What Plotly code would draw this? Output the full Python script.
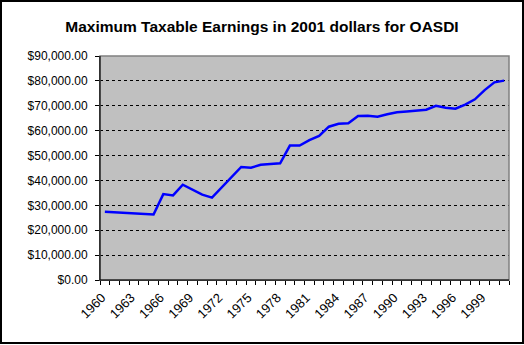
import plotly.graph_objects as go

years = list(range(1960, 2002))
earnings = [27400, 27200, 26800, 26700, 26600, 26300, 34500, 34000, 38300, 36400,
            34300, 33100, 37200, 41400, 45400, 45100, 46300, 46600, 46900, 54000,
            54000, 56200, 57900, 61600, 62800, 63000, 65900, 66000, 65600, 66600,
            67400, 67700, 67900, 68400, 70000, 69200, 68800, 70500, 72600, 76300,
            79400, 80100]
label_years = list(range(1960, 2002, 3))
title = "Maximum Taxable Earnings in 2001 dollars for OASDI"

W, H = 524, 345
L, R, T, B = 100, 15, 56, 65
pw, ph = W - L - R, H - T - B
FONT = "Liberation Sans, Arial, sans-serif"

fig = go.Figure()
fig.add_trace(go.Scatter(x=years, y=earnings, mode="lines",
                         line=dict(color="#0000FF", width=2.5), showlegend=False))

fig.update_layout(
    width=W, height=H,
    margin=dict(l=L, r=R, t=T, b=B),
    paper_bgcolor="white", plot_bgcolor="#C0C0C0",
    font=dict(family=FONT, size=13, color="black"),
    title=dict(text="<b>" + title + "</b>", x=0.5, xref="container", xanchor="center",
               y=1 - 27 / H, yref="container", yanchor="middle",
               font=dict(size=15.5, family=FONT)),
    xaxis=dict(range=[1959.5, 2001.5], tickmode="array", tickvals=label_years,
               ticktext=[str(y) for y in label_years], tickangle=-45,
               ticks="", showgrid=False, showline=True, linecolor="black",
               linewidth=1, zeroline=False, ticklabelstandoff=4, ticklabelshift=-3,
               tickfont=dict(size=13),
               minor=dict(ticks="outside", ticklen=4, tickcolor="black",
                          tick0=1959.5, dtick=1, showgrid=False)),
    yaxis=dict(range=[0, 90000], dtick=10000, tickformat="$,.2f",
               ticks="outside", ticklen=4, tickcolor="black",
               tickfont=dict(size=12), ticklabelstandoff=5,
               showgrid=True, gridcolor="black", griddash="3px,3px", gridwidth=1,
               showline=True, linecolor="black", linewidth=1, zeroline=False),
)

# plot area border (gray, top & right)
fig.add_shape(type="rect", xref="paper", yref="paper", x0=0, x1=1, y0=0, y1=1,
              line=dict(color="#808080", width=1.5), layer="above")
fig.add_shape(type="line", xref="paper", yref="paper", x0=0, x1=0, y0=0, y1=1,
              line=dict(color="black", width=1), layer="above")
fig.add_shape(type="line", xref="paper", yref="paper", x0=0, x1=1, y0=0, y1=0,
              line=dict(color="black", width=1), layer="above")
# outer chart border
fig.add_shape(type="rect", xref="paper", yref="paper",
              x0=(1 - L) / pw, x1=(523 - L) / pw,
              y0=(H - B - 343) / ph, y1=(H - B - 1) / ph,
              line=dict(color="black", width=2), layer="above")

fig.write_html("out.html")
